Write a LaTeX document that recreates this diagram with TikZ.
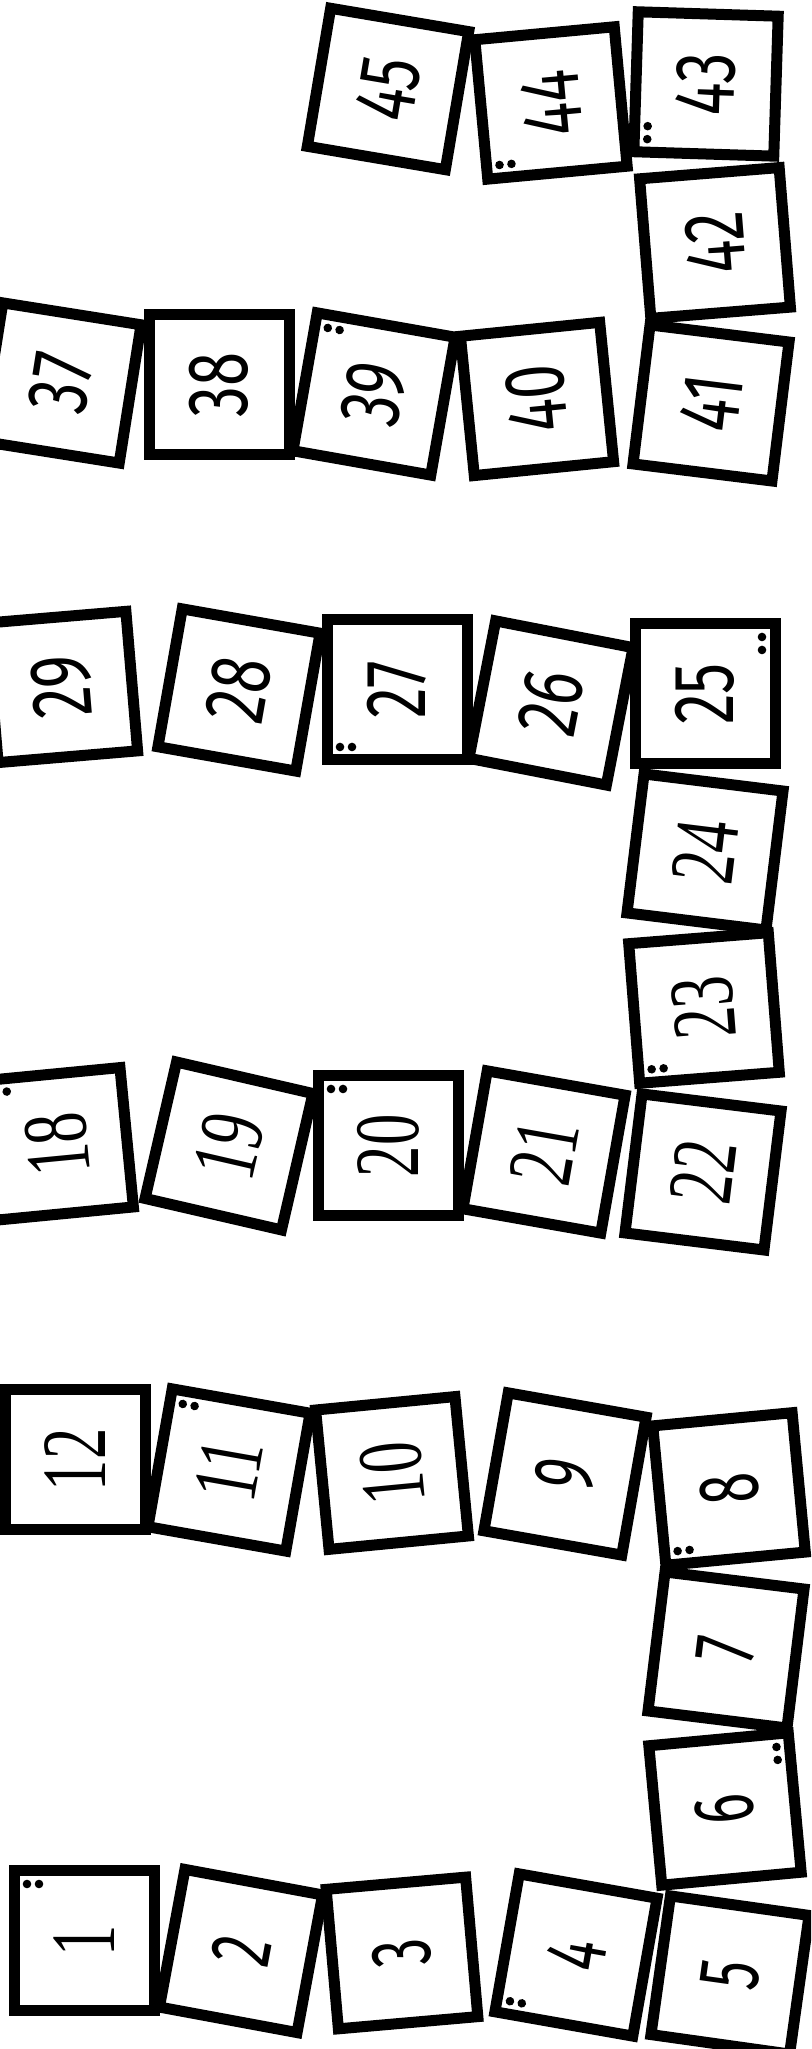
\documentclass[tikz,border=0pt]{standalone}
\usepackage{fontspec}
\newfontfamily\serifnum[FakeStretch=0.68]{Liberation Serif}
\newfontfamily\sansnumA[FakeStretch=0.65]{Fira Sans}
\newfontfamily\sansnumB[FakeStretch=0.72]{Fira Sans}
\newcommand{\fs}{\serifnum\fontsize{92}{92}\selectfont}
\newcommand{\fa}{\sansnumA\fontsize{86}{86}\selectfont}
\newcommand{\fb}{\sansnumB\fontsize{86}{86}\selectfont}
\tikzset{
  sq/.style={draw=black, line width=11pt, fill=white, minimum size=140pt, inner sep=0pt, outer sep=0pt},
  num/.style={inner sep=0pt, outer sep=0pt},
}
% #1 number, #2 x, #3 y (from top), #4 angle, #5 font
\newcommand{\mytile}[5]{%
  \node[sq, rotate=#4] (s#1) at (#2, 2049-#3) {};
  \node[num, rotate=90+#4, font=#5] (t#1) at (s#1.center) {#1};}
% #1 tile number, #2 angle, #3 dot path
\newcommand{\dotpair}[3]{%
  \begin{scope}[shift={(s#1.center)}, rotate=#2]
    \fill[black] #3;
  \end{scope}}
\newcommand{\TLh}{(-57,57) circle (4.3pt) (-45,57) circle (4.3pt)}
\newcommand{\BLh}{(-57,-57) circle (4.3pt) (-45,-57) circle (4.3pt)}
\newcommand{\TRv}{(57,57) circle (4.3pt) (57,44) circle (4.3pt)}
\newcommand{\BLv}{(-57,-44) circle (4.3pt) (-57,-57) circle (4.3pt)}
\begin{document}
\begin{tikzpicture}[x=1pt, y=1pt]
  \useasboundingbox (0,0) rectangle (811,2049);
  \fill[white] (0,0) rectangle (811,2049);
  \clip (0,0) rectangle (811,2049);
  % bottom group
  \mytile{1}{84}{1941}{0}{\fs}
  \mytile{2}{241}{1951}{-10.5}{\fa}
  \mytile{3}{402}{1953}{5}{\fa}
  \mytile{4}{576}{1955}{-10}{\fa}
  \mytile{5}{730}{1975}{-8}{\fa}
  \mytile{6}{725}{1809}{5.3}{\fa}
  \mytile{7}{726}{1650}{-7}{\fa}
  \mytile{8}{729}{1489}{5.4}{\fa}
  \mytile{9}{565}{1474}{-10}{\fa}
  \mytile{10}{392}{1473}{5.5}{\fs}
  \mytile{11}{229}{1470}{-10}{\fs}
  \mytile{12}{75}{1460}{0}{\fs}
  % second group
  \mytile{18}{57}{1144}{5.5}{\fs}
  \mytile{19}{229}{1146}{-13}{\fs}
  \mytile{20}{388}{1146}{0}{\fs}
  \mytile{21}{544}{1152}{-10}{\fs}
  \mytile{22}{703}{1172}{-7}{\fs}
  \mytile{23}{704}{1008}{4.5}{\fs}
  \mytile{24}{705}{852}{-7}{\fs}
  \mytile{25}{705}{694}{0}{\fb}
  \mytile{26}{551}{703}{-11}{\fb}
  \mytile{27}{397}{690}{0}{\fb}
  \mytile{28}{239}{690}{-10}{\fb}
  \mytile{29}{62}{687}{4.8}{\fb}
  % third group
  \mytile{37}{61}{383}{-9}{\fb}
  \mytile{38}{219}{385}{0}{\fb}
  \mytile{39}{374}{394}{-10}{\fb}
  \mytile{40}{537}{399}{5.7}{\fb}
  \mytile{41}{711}{403}{-7}{\fb}
  \mytile{42}{715}{243}{4.6}{\fb}
  \mytile{43}{706}{84}{-1.8}{\fb}
  \mytile{44}{551}{103}{5.3}{\fb}
  \mytile{45}{388}{89}{-9.6}{\fb}
  % dots
  \dotpair{1}{0}{\TLh}
  \dotpair{4}{-10}{\BLh}
  \dotpair{6}{5.3}{\TRv}
  \dotpair{8}{5.4}{\BLh}
  \dotpair{11}{-10}{\TLh}
  \dotpair{18}{5.5}{\TLh}
  \dotpair{20}{0}{\TLh}
  \dotpair{23}{4.5}{\BLh}
  \dotpair{25}{0}{\TRv}
  \dotpair{27}{0}{\BLh}
  \dotpair{39}{-10}{\TLh}
  \dotpair{43}{-1.8}{\BLv}
  \dotpair{44}{5.3}{\BLh}
\end{tikzpicture}
\end{document}
